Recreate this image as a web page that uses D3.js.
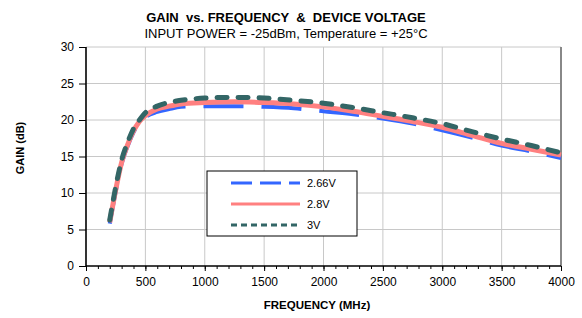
<!DOCTYPE html>
<html>
<head>
<meta charset="utf-8">
<script src="https://cdn.jsdelivr.net/npm/d3@7"></script>
<style>
  body { margin: 0; background: #fff; }
  svg { font-family: "Liberation Sans", Arial, sans-serif; }
</style>
</head>
<body>
<div id="chart"></div>
<script>
// frequency points (MHz)
const freq = [200, 250, 300, 350, 400, 450, 500, 600, 700, 800, 1000, 1250, 1500, 1750, 2000, 2250, 2500, 2750, 3000, 3250, 3500, 3750, 4000];

// gain (dB) per supply voltage
const gain266 = [5.8, 10.2, 14.0, 16.4, 18.3, 19.6, 20.4, 21.1, 21.5, 21.8, 21.9, 21.9, 21.8, 21.6, 21.2, 20.8, 20.2, 19.5, 18.6, 17.6, 16.5, 15.7, 14.8];
const gain28 = [6.0, 10.4, 14.2, 16.6, 18.5, 19.8, 20.6, 21.5, 21.9, 22.2, 22.4, 22.5, 22.4, 22.2, 21.8, 21.2, 20.5, 19.8, 19.0, 17.9, 16.8, 16.0, 15.2];
const gain3 = [6.3, 10.8, 14.5, 16.9, 18.8, 20.0, 21.0, 21.9, 22.4, 22.7, 23.0, 23.1, 23.0, 22.7, 22.3, 21.7, 21.0, 20.3, 19.5, 18.4, 17.4, 16.5, 15.5];

const xTicks = [0, 500, 1000, 1500, 2000, 2500, 3000, 3500, 4000];
const yTicks = [0, 5, 10, 15, 20, 25, 30];

const seriesNames = ["2.66V", "2.8V", "3V"];

const W = 582, H = 318;
const m = { left: 86, right: 21, top: 47, bottom: 52 };

const svg = d3.select("div#chart")
  .append("svg")
  .attr("width", W)
  .attr("height", H);

const x = d3.scaleLinear().domain([0, 4000]).range([m.left, W - m.right]);
const y = d3.scaleLinear().domain([0, 30]).range([H - m.bottom, m.top]);

// gridlines
svg.append("g")
  .selectAll("line.vg")
  .data(xTicks.slice(1))
  .enter().append("line")
  .attr("x1", d => x(d)).attr("x2", d => x(d))
  .attr("y1", y(0)).attr("y2", y(30))
  .attr("stroke", "#c8c8c8").attr("stroke-width", 1);

svg.append("g")
  .selectAll("line.hg")
  .data(yTicks.slice(1))
  .enter().append("line")
  .attr("x1", x(0)).attr("x2", x(4000))
  .attr("y1", d => y(d)).attr("y2", d => y(d))
  .attr("stroke", "#c8c8c8").attr("stroke-width", 1);

// right frame
svg.append("line")
  .attr("x1", x(4000)).attr("x2", x(4000))
  .attr("y1", y(0)).attr("y2", y(30))
  .attr("stroke", "#888").attr("stroke-width", 2);

// axes
const xAxis = svg.append("g")
  .attr("transform", "translate(0," + y(0) + ")")
  .call(d3.axisBottom(x).tickValues(d3.range(0, 4001, 100)).tickSize(3).tickFormat(""));
const xAxisMajor = svg.append("g")
  .attr("transform", "translate(0," + y(0) + ")")
  .call(d3.axisBottom(x).tickValues(xTicks).tickSize(5).tickPadding(6).tickFormat(d3.format("d")));
const yAxis = svg.append("g")
  .attr("transform", "translate(" + x(0) + ",0)")
  .call(d3.axisLeft(y).tickValues(yTicks).tickSize(7).tickPadding(5).tickFormat(d3.format("d")));

[xAxis, xAxisMajor, yAxis].forEach(g => {
  g.select(".domain").attr("stroke", "#000").attr("stroke-width", 1.6);
  g.selectAll(".tick line").attr("stroke", "#000");
  g.selectAll("text").attr("font-size", 12).attr("fill", "#000")
    .attr("font-family", "Liberation Sans, Arial, sans-serif");
});
xAxis.select(".domain").attr("d", "M" + x(0) + ",0H" + x(4000));
xAxisMajor.select(".domain").remove();
yAxis.select(".domain").attr("d", "M0," + y(0) + "V" + y(30));

// curves
const line = d3.line()
  .x((d, i) => x(freq[i]))
  .y(d => y(d))
  .curve(d3.curveMonotoneX);

svg.append("path").datum(gain266)
  .attr("d", line).attr("fill", "none")
  .attr("stroke", "#3366ff").attr("stroke-width", 4)
  .attr("stroke-dasharray", "40,18");

svg.append("path").datum(gain28)
  .attr("d", line).attr("fill", "none")
  .attr("stroke", "#ff8080").attr("stroke-width", 5);

svg.append("path").datum(gain3)
  .attr("d", line).attr("fill", "none")
  .attr("stroke", "#336666").attr("stroke-width", 5)
  .attr("stroke-linecap", "round")
  .attr("stroke-dasharray", "10,11");

// legend
const lg = svg.append("g");
lg.append("rect")
  .attr("x", 207).attr("y", 171).attr("width", 150).attr("height", 65)
  .attr("fill", "#fff").attr("stroke", "#000").attr("stroke-width", 1);

const legColors = ["#3366ff", "#ff8080", "#336666"];
const legDash = ["21,8", null, "6,4"];
seriesNames.forEach((name, i) => {
  const ly = 183 + i * 21;
  const l = lg.append("line")
    .attr("x1", 231).attr("x2", 300).attr("y1", ly).attr("y2", ly)
    .attr("stroke", legColors[i]).attr("stroke-width", 3);
  if (legDash[i]) l.attr("stroke-dasharray", legDash[i]);
  lg.append("text")
    .attr("x", 307).attr("y", ly + 4)
    .attr("font-size", 11)
    .text(name);
});

// titles
svg.append("text")
  .attr("x", 286).attr("y", 22)
  .attr("text-anchor", "middle")
  .attr("font-size", 13).attr("font-weight", "bold")
  .style("white-space", "pre")
  .text("GAIN  vs. FREQUENCY  &  DEVICE VOLTAGE");

svg.append("text")
  .attr("x", 286).attr("y", 38)
  .attr("text-anchor", "middle")
  .attr("font-size", 13)
  .text("INPUT POWER = -25dBm, Temperature = +25°C");

svg.append("text")
  .attr("x", 317).attr("y", 309)
  .attr("text-anchor", "middle")
  .attr("font-size", 11.5).attr("font-weight", "bold")
  .text("FREQUENCY (MHz)");

svg.append("text")
  .attr("transform", "translate(24,148) rotate(-90)")
  .attr("text-anchor", "middle")
  .attr("font-size", 11).attr("font-weight", "bold")
  .text("GAIN (dB)");
</script>
</body>
</html>
